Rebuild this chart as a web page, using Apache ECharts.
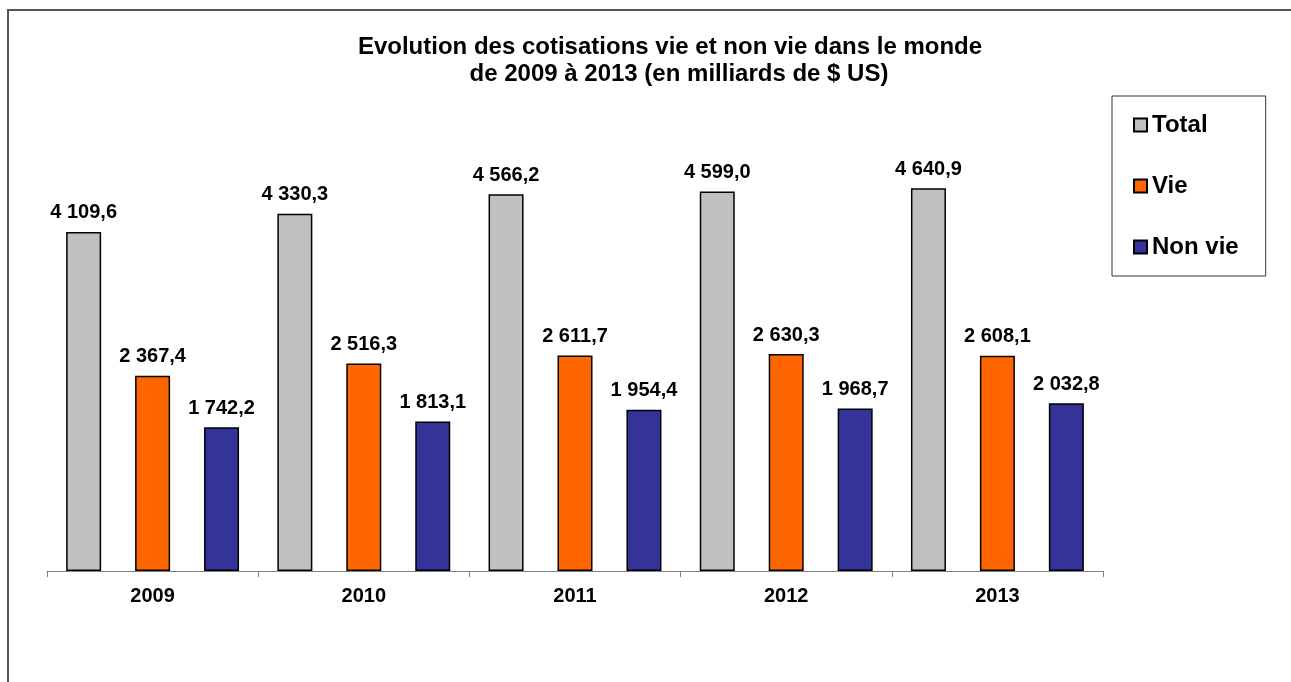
<!DOCTYPE html>
<html>
<head>
<meta charset="utf-8">
<script src="https://cdn.jsdelivr.net/npm/echarts@6/dist/echarts.min.js"></script>
<style>
  html, body { margin: 0; padding: 0; background: #fff; }
  #chart { width: 1291px; height: 682px; }
</style>
</head>
<body>
<div id="chart"></div>
<script>
// données (milliards de $ US)
var years = ['2009', '2010', '2011', '2012', '2013'];
var totalData = [4109.6, 4330.3, 4566.2, 4599.0, 4640.9];
var vieData = [2367.4, 2516.3, 2611.7, 2630.3, 2608.1];
var nonVieData = [1742.2, 1813.1, 1954.4, 1968.7, 2032.8];

var FONT = '"Liberation Sans", Arial, sans-serif';

// format français : espace pour les milliers, virgule décimale
function frNum (v) {
  var parts = v.toFixed(1).split('.');
  return parts[0].replace(/\B(?=(\d{3})+(?!\d))/g, ' ') + ',' + parts[1];
}

function makeSeries (name, data, color) {
  return {
    name: name,
    type: 'bar',
    data: data,
    barWidth: 35,
    barGap: '97%',
    itemStyle: { color: color, borderColor: '#000', borderWidth: 1.5 },
    label: {
      show: true,
      position: 'top',
      distance: 9,
      color: '#000',
      fontFamily: FONT,
      fontWeight: 'bold',
      fontSize: 20,
      formatter: function (p) { return frNum(p.value); }
    }
  };
}

var titleStyle = { fontFamily: FONT, fontWeight: 'bold', fontSize: 24, color: '#000' };

var chart = echarts.init(document.getElementById('chart'));
chart.setOption({
  animation: false,
  textStyle: { fontFamily: FONT },
  title: [{
    text: 'Evolution des cotisations vie et non vie dans le monde',
    left: 665,
    top: 30,
    textAlign: 'center',
    textStyle: titleStyle
  }, {
    text: 'de 2009 à 2013 (en milliards de $ US)',
    left: 674,
    top: 57,
    textAlign: 'center',
    textStyle: titleStyle
  }],
  legend: {
    orient: 'vertical',
    left: 1112,
    top: 96,
    padding: [16, 27, 16, 21],
    itemWidth: 13,
    itemHeight: 13,
    itemGap: 35,
    icon: 'rect',
    borderColor: '#333',
    borderWidth: 1,
    textStyle: { fontFamily: FONT, fontWeight: 'bold', fontSize: 24, lineHeight: 26, color: '#000' },
    data: ['Total', 'Vie', 'Non vie']
  },
  grid: { left: 47, right: 188, top: 158.5, bottom: 111 },
  xAxis: {
    type: 'category',
    data: years,
    axisLine: { lineStyle: { color: '#808080', width: 1 } },
    axisTick: { show: true, length: 6, lineStyle: { color: '#808080' } },
    axisLabel: { color: '#000', fontFamily: FONT, fontWeight: 'bold', fontSize: 20, margin: 15 }
  },
  yAxis: { type: 'value', min: 0, max: 5000, show: false },
  graphic: [{
    type: 'rect',
    shape: { x: 8, y: 10, width: 1300, height: 700 },
    style: { fill: 'none', stroke: '#555', lineWidth: 2 },
    silent: true
  }],
  series: [
    makeSeries('Total', totalData, '#C0C0C0'),
    makeSeries('Vie', vieData, '#FF6600'),
    makeSeries('Non vie', nonVieData, '#333399')
  ]
});
</script>
</body>
</html>
